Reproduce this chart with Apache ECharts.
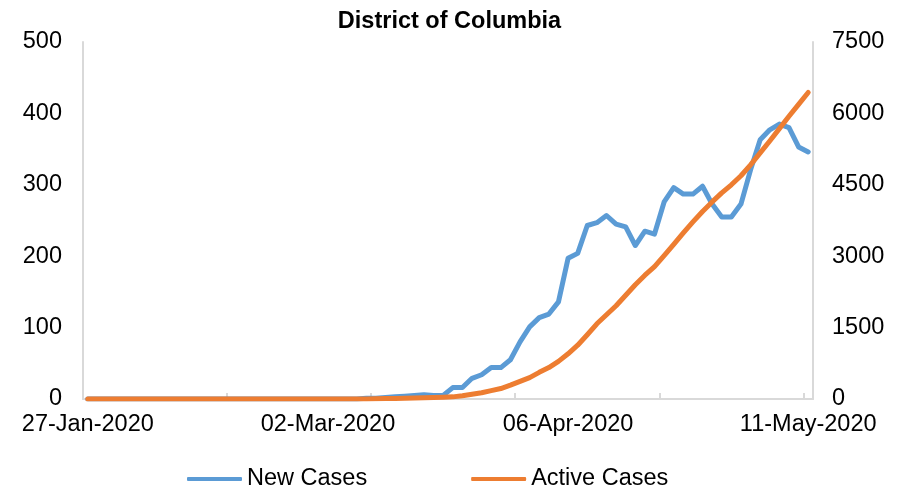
<!DOCTYPE html>
<html>
<head>
<meta charset="utf-8">
<title>District of Columbia</title>
<script src="https://cdn.jsdelivr.net/npm/echarts@6/dist/echarts.min.js"></script>
<style>
  html, body { margin: 0; padding: 0; background: #fff; }
  #chart { width: 899px; height: 491px; }
</style>
</head>
<body>
<div id="chart"></div>
<script>
// weekday dates (x categories)
const dates = [
  '27-Jan-2020', '28-Jan-2020', '29-Jan-2020', '30-Jan-2020', '31-Jan-2020',
  '03-Feb-2020', '04-Feb-2020', '05-Feb-2020', '06-Feb-2020', '07-Feb-2020',
  '10-Feb-2020', '11-Feb-2020', '12-Feb-2020', '13-Feb-2020', '14-Feb-2020',
  '17-Feb-2020', '18-Feb-2020', '19-Feb-2020', '20-Feb-2020', '21-Feb-2020',
  '24-Feb-2020', '25-Feb-2020', '26-Feb-2020', '27-Feb-2020', '28-Feb-2020',
  '02-Mar-2020', '03-Mar-2020', '04-Mar-2020', '05-Mar-2020', '06-Mar-2020',
  '09-Mar-2020', '10-Mar-2020', '11-Mar-2020', '12-Mar-2020', '13-Mar-2020',
  '16-Mar-2020', '17-Mar-2020', '18-Mar-2020', '19-Mar-2020', '20-Mar-2020',
  '23-Mar-2020', '24-Mar-2020', '25-Mar-2020', '26-Mar-2020', '27-Mar-2020',
  '30-Mar-2020', '31-Mar-2020', '01-Apr-2020', '02-Apr-2020', '03-Apr-2020',
  '06-Apr-2020', '07-Apr-2020', '08-Apr-2020', '09-Apr-2020', '10-Apr-2020',
  '13-Apr-2020', '14-Apr-2020', '15-Apr-2020', '16-Apr-2020', '17-Apr-2020',
  '20-Apr-2020', '21-Apr-2020', '22-Apr-2020', '23-Apr-2020', '24-Apr-2020',
  '27-Apr-2020', '28-Apr-2020', '29-Apr-2020', '30-Apr-2020', '01-May-2020',
  '04-May-2020', '05-May-2020', '06-May-2020', '07-May-2020', '08-May-2020',
  '11-May-2020'
];

const newCases = [
  0, 0, 0, 0, 0,
  0, 0, 0, 0, 0,
  0, 0, 0, 0, 0,
  0, 0, 0, 0, 0,
  0, 0, 0, 0, 0,
  0, 0, 0, 0, 1,
  1, 2, 3, 4, 5,
  6, 5, 5, 16, 16,
  29, 34, 44, 44, 55,
  80, 101, 114, 119, 136,
  197, 204, 243, 247, 257,
  245, 241, 215, 235, 231,
  276, 296, 287, 287, 298,
  273, 255, 255, 273, 321,
  363, 377, 385, 380, 353,
  346
];

const activeCases = [
  0, 0, 0, 0, 0,
  0, 0, 0, 0, 0,
  0, 0, 0, 0, 0,
  0, 0, 0, 0, 0,
  0, 0, 0, 0, 0,
  0, 0, 0, 0, 2,
  5, 8, 12, 16, 20,
  25, 30, 36, 45, 70,
  100, 130, 175, 220, 290,
  370, 450, 560, 660, 790,
  950, 1130, 1350, 1580, 1770,
  1960, 2180, 2400, 2600, 2780,
  3010, 3250, 3490, 3720, 3940,
  4140, 4330, 4500, 4690, 4920,
  5170, 5420, 5680, 5940, 6190,
  6440
];

const FONT = '"Liberation Sans", Arial, sans-serif';
const AXIS_GREY = '#d9d9d9';
const BLUE = '#5b9bd5';
const ORANGE = '#ed7d31';

const chart = echarts.init(document.getElementById('chart'));

chart.setOption({
  animation: false,
  backgroundColor: '#fff',
  textStyle: { fontFamily: FONT, color: '#000' },
  title: {
    text: 'District of Columbia',
    left: 'center',
    top: 5,
    textStyle: { fontFamily: FONT, fontSize: 23.5, fontWeight: 'bold', color: '#000' }
  },
  legend: {
    left: 182,
    top: 462,
    itemWidth: 55,
    itemHeight: 4,
    itemGap: 104,
    textStyle: { fontFamily: FONT, fontSize: 23.5, color: '#000' },
    data: [
      { name: 'New Cases', icon: 'roundRect', itemStyle: { color: BLUE } },
      { name: 'Active Cases', icon: 'roundRect', itemStyle: { color: ORANGE } }
    ]
  },
  grid: { left: 83, right: 86, top: 42, height: 357 },
  xAxis: {
    type: 'category',
    data: dates,
    boundaryGap: true,
    axisLine: { lineStyle: { color: AXIS_GREY, width: 2 } },
    axisTick: { show: true, inside: true, length: 6, interval: 14, lineStyle: { color: AXIS_GREY, width: 2 } },
    axisLabel: { interval: 24, margin: 14, fontSize: 23.5, fontFamily: FONT, color: '#000' },
    splitLine: { show: false }
  },
  yAxis: [
    {
      type: 'value',
      min: 0, max: 500, interval: 100,
      axisLine: { show: true, lineStyle: { color: AXIS_GREY, width: 2 } },
      axisTick: { show: false },
      axisLabel: { margin: 21, fontSize: 23.5, fontFamily: FONT, color: '#000' },
      splitLine: { show: false }
    },
    {
      type: 'value',
      min: 0, max: 7500, interval: 1500,
      position: 'right',
      axisLine: { show: true, lineStyle: { color: AXIS_GREY, width: 2 } },
      axisTick: { show: false },
      axisLabel: {
        margin: 19, fontSize: 23.5, fontFamily: FONT, color: '#000',
        formatter: v => String(v)
      },
      splitLine: { show: false }
    }
  ],
  series: [
    {
      name: 'New Cases',
      type: 'line',
      yAxisIndex: 0,
      data: newCases,
      symbol: 'none',
      color: BLUE,
      lineStyle: { width: 5, color: BLUE, cap: 'round', join: 'round' }
    },
    {
      name: 'Active Cases',
      type: 'line',
      yAxisIndex: 1,
      data: activeCases,
      symbol: 'none',
      color: ORANGE,
      lineStyle: { width: 5, color: ORANGE, cap: 'round', join: 'round' }
    }
  ]
});

window.addEventListener('resize', () => chart.resize());
</script>
</body>
</html>
